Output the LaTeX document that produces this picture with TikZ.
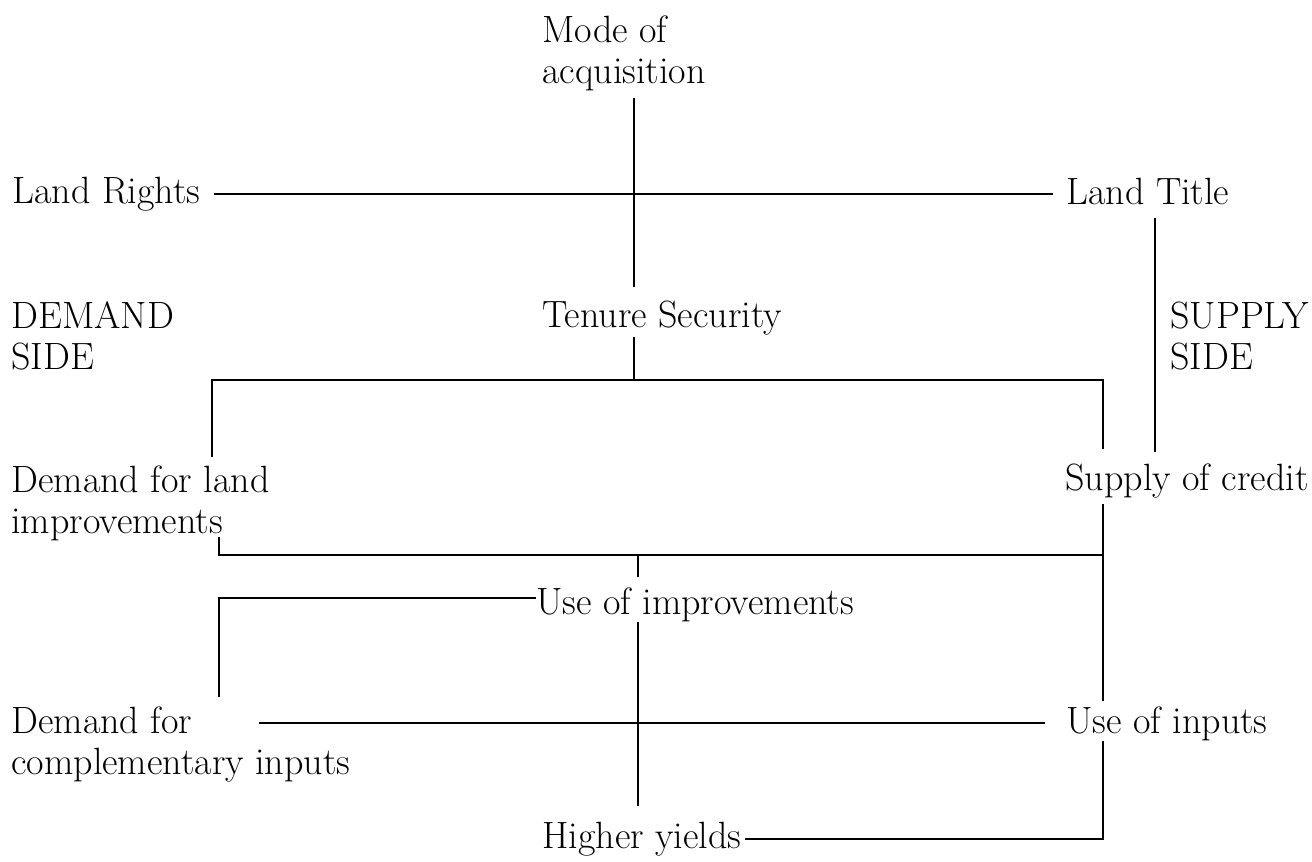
\documentclass[tikz,border=0pt]{standalone}
\usepackage{tikz}
\usetikzlibrary{calc}

\begin{document}
\begin{tikzpicture}[x=0.5pt, y=-0.5pt,
    lbl/.style={inner sep=0pt, align=left, font=\fontsize{19}{20.5}\selectfont},
    link/.style={line width=1.1pt}]
    \useasboundingbox (0,0) rectangle (1312,862);

    % labels
    \node[lbl, anchor=north west] (mode) at (542,15) {Mode of\\acquisition};
    \node[lbl, anchor=base west] (rights) at (12,203) {Land Rights};
    \node[lbl, anchor=base west] (title) at (1066,204) {Land Title};
    \node[lbl, anchor=north west] (demside) at (11,301) {DEMAND\\SIDE};
    \node[lbl, anchor=base west] (tenure) at (542,327) {Tenure Security};
    \node[lbl, anchor=north west] (supside) at (1170,302) {SUPPLY\\SIDE};
    \node[lbl, anchor=north west] (landdem) at (11,465) {Demand for land\\improvements};
    \node[lbl, anchor=base west] (credit) at (1065,490) {Supply of credit};
    \node[lbl, anchor=base west] (useimp) at (536,614) {Use of improvements};
    \node[lbl, anchor=north west] (compdem) at (11,706) {Demand for\\complementary inputs};
    \node[lbl, anchor=base west] (inputs) at (1066,733) {Use of inputs};
    \node[lbl, anchor=base west] (yields) at (542,848) {Higher yields};

    % line positions
    \coordinate (ax) at (634,0);
    \coordinate (lx) at (212,0);
    \coordinate (rx) at (1103,0);
    \coordinate (sx) at (1155,0);
    \coordinate (hx) at (219,0);
    \coordinate (cx) at (259,0);
    \coordinate (brk) at (634,380);
    \coordinate (imp) at (638,555);

    % connectors
    \draw[link, shorten <=3.5pt, shorten >=6.5pt] (mode.south -| ax) -- (tenure.north -| ax);
    \draw[link, shorten <=6.5pt, shorten >=6.5pt] (rights.east) -- (rights.east -| title.west);
    \draw[link, shorten <=6.5pt, shorten >=5.5pt] (title.south -| sx) -- (credit.north -| sx);
    \draw[link, shorten <=1pt] (tenure.south -| ax) -- (brk);
    \draw[link, shorten <=4pt, shorten >=7pt] (landdem.north -| lx) |- (brk) -| (credit.north -| rx);
    \draw[link, shorten <=-2pt] (landdem.south -| hx) |- (imp -| rx);
    \draw[link, shorten <=3pt, shorten >=2.5pt] (credit.south -| rx) -- (inputs.north -| rx);
    \draw[link, shorten >=5pt] (imp) -- (useimp.north -| imp);
    \draw[link, shorten >=4.5pt] ([yshift=3pt]useimp.west) -| (compdem.north -| hx);
    \draw[link, shorten >=7.5pt] (useimp.south -| imp) -- (yields.north -| imp);
    \draw[link, shorten <=10.5pt] (inputs.west) -- (inputs.west -| cx);
    \draw[link, shorten >=1.5pt] (inputs.south -| rx) |- (yields.east);
\end{tikzpicture}
\end{document}
